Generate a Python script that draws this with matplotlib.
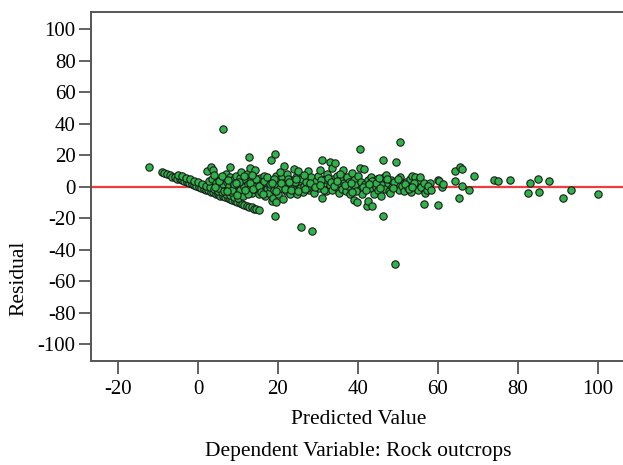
import matplotlib
matplotlib.use("Agg")
import matplotlib.pyplot as plt

# Residual vs predicted values
# points where the observed value is 0 (residual = -predicted)
zero_pred = [-9.0, -8.6, -7.8, -7.0, -6.4, -5.8, -5.2, -4.6, -4.0, -3.4, -2.8, -2.2,
             -1.6, -1.0, -0.4, 0.2, 0.8, 1.4, 2.0, 2.6, 3.2, 3.8, 4.4, 5.0, 5.6, 6.2,
             6.8, 7.4, 8.0, 8.6, 9.2, 9.8, 10.4, 11.0, 11.6, 12.2, 12.8, 13.4, 14.0,
             14.6, 15.2]
zero_resid = [9.1, 8.5, 7.7, 7.1, 6.3, 5.9, 5.1, 4.7, 3.9, 3.5, 2.7, 2.3, 1.5, 1.1,
              0.3, -0.3, -0.9, -1.5, -2.1, -2.5, -3.3, -3.7, -4.5, -4.9, -5.7, -6.1,
              -6.9, -7.3, -8.1, -8.5, -9.3, -9.7, -10.5, -10.9, -11.7, -12.1, -12.9,
              -13.3, -14.1, -14.5, -15.2]

# a second band just above it
low_pred = [-5.0, -4.0, -3.0, -2.0, -1.0, 0.0, 1.0, 2.0, 3.0, 4.0, 5.0, 6.0, 7.0,
            8.0, 9.0, 10.0]
low_resid = [7.4, 6.6, 5.4, 4.6, 3.4, 2.6, 1.4, 0.6, -0.6, -1.4, -2.6, -3.4, -4.6,
             -5.4, -6.6, -7.4]

# main cloud
pred = [-12.2, 2.2, 2.8, 3.2, 3.5, 3.8, 4.0, 4.5, 5.0,
        5.8, 6.2, 6.3, 6.5, 6.8, 7.0, 7.2, 7.5, 7.8, 8.0, 8.0, 8.3,
        8.8, 9.0, 9.3, 9.6, 10.0, 10.0, 10.4, 10.6, 10.8, 11.0, 11.2, 11.4,
        11.8, 12.0, 12.2, 12.5, 12.7, 12.9, 13.0, 13.2, 13.5, 13.8, 14.0, 14.2,
        14.6, 15.0, 15.3, 15.6, 16.0, 16.3, 16.6, 16.8, 17.0, 17.2,
        17.5, 17.8, 18.0, 18.2, 18.4, 18.6, 18.8, 19.0, 19.2, 19.3, 19.4, 19.6,
        19.8, 20.0, 20.3,
        20.6, 21.0, 21.3, 21.4, 21.6, 22.0, 22.3, 22.6, 23.0, 23.3,
        23.6, 24.0, 24.1, 24.5, 24.8, 25.0, 25.3, 25.6, 25.8, 26.0, 26.2,
        26.6, 27.0, 27.4, 27.8, 28.2, 28.5, 28.6, 29.0,
        29.5, 30.0, 30.3, 30.6, 31.0, 31.1, 31.4, 31.8, 32.0, 32.3,
        32.9, 33.0, 33.4, 33.5, 33.8, 34.3, 34.5, 34.8, 35.0, 35.2,
        35.6, 36.0, 36.3, 36.6, 37.0, 37.2, 37.6, 37.8, 38.0, 38.4,
        38.9, 39.0, 39.3, 39.7, 40.0, 40.2, 40.5, 40.5, 40.8, 41.0,
        41.6, 41.8, 42.2, 42.4, 42.6, 43.0, 43.3, 43.6, 43.8, 44.0,
        44.4, 44.8, 45.0, 45.4, 45.8, 46.0, 46.2, 46.2, 46.5, 46.8, 47.0,
        47.4, 47.8, 48.2, 48.6, 49.2, 49.6, 49.8, 50.2, 50.5, 50.6, 51.0,
        51.5, 52.0, 52.5, 53.0, 53.2, 53.6, 54.2, 54.6, 55.0, 55.3, 55.8,
        56.6, 56.6, 56.8, 57.3, 58.0, 59.9, 60.1, 60.3, 60.9, 61.3,
        64.3, 64.3, 65.2, 65.6, 66.0, 66.0, 67.7, 69.1,
        74.0, 74.9, 78.0, 82.4, 83.0, 85.0, 85.3, 87.8, 91.3, 93.2, 100.0]
resid = [12.5, 9.7, 3.8, 12.3, 4.5, 10.5, 7.5, 2.0, -1.0,
         5.0, 1.5, 36.8, -3.0, 5.5, 8.0, 3.0, -1.5, 0.5, 12.3, 6.0, -3.5,
         2.0, 4.5, -1.0, 7.0, -4.0, 1.0, 5.5, -2.0, 9.0, 3.0, -6.0, 0.0,
         5.0, -3.0, 8.0, 1.5, 18.6, -1.0, 12.0, 4.0, -4.0, 6.5, 0.5, 10.5,
         -2.0, 3.5, -5.0, 5.5, 1.0, -3.0, 7.0, -6.0, 2.5, -1.5,
         5.0, -4.0, 0.0, 16.9, -8.9, 3.0, -7.0, -2.0, 20.9, -19.0, -9.5, 7.0,
         1.0, -5.0, 4.0,
         -1.0, 6.0, -8.2, 12.9, 2.5, -3.0, 8.0, 0.0, -5.0, 4.0,
         1.5, -2.0, 11.0, 6.0, -4.5, 10.0, 2.0, -1.0, -25.4, 5.0, -3.5,
         0.5, 3.0, 10.1, -2.0, 6.0, 1.0, -28.3, -4.0,
         3.5, 7.0, -1.0, 10.5, 17.1, -7.2, 2.0, 5.0, -3.0, 8.0,
         15.6, 1.0, -2.0, 11.8, 4.5, 14.8, -0.5, 7.0, 2.5, -4.0,
         5.0, -1.5, 10.8, 2.0, -3.0, 6.0, 0.5, 3.0, -5.0, 8.7,
         -8.5, 4.0, 1.0, -9.5, 6.5, -2.0, 11.8, 23.7, 3.0, -5.0,
         11.2, 1.5, -12.5, -9.3, 4.0, -1.0, 6.0, -12.5, 2.0, -4.5,
         0.0, 5.0, -2.5, 3.0, -6.0, 1.0, 16.9, -19.0, 6.0, -1.5, 7.6,
         2.5, -3.0, 4.0, 0.0, -49.0, 15.6, 2.0, -2.0, 28.5, 6.0, 0.5,
         -3.0, 3.0, -1.0, 4.5, -3.5, 7.0, 5.9, 1.0, -2.5, 4.0, 0.0,
         2.1, -11.4, -4.0, -1.9, 2.1, 4.2, -12.0, 3.4, -0.4, 1.9,
         9.7, 3.8, -7.0, 12.7, 11.2, 0.2, -2.5, 7.0,
         4.0, 3.4, 4.2, -4.2, 2.5, 5.0, -3.2, 3.4, -7.2, -2.1, -4.9]

# extra points filling the dense part of the cloud
pred_more = [4.2, 5.3, 6.0, 7.6, 8.5, 9.1, 9.8, 10.2, 11.5, 12.4,
             13.1, 13.7, 14.4, 15.2, 15.8, 16.4, 17.3, 17.9, 18.9, 19.5,
             20.8, 21.8, 22.5, 23.2, 24.3, 25.1, 26.4, 27.2, 28.0, 29.3,
             30.8, 31.6, 32.6, 33.2, 34.0, 35.4, 36.8, 38.2, 39.5, 41.2,
             42.0, 43.5, 44.6, 45.6, 47.2, 48.0, 49.0, 50.0, 51.8, 52.8,
             54.0, 55.5, 57.6, 58.3, 7.3, 9.5, 11.7, 13.4, 16.2, 18.5,
             20.5, 22.8, 24.6, 26.8, 30.5, 34.7, 38.6, 42.8, 45.2, 48.8, 53.5]
resid_more = [-0.5, 3.5, 7.0, 4.0, -2.5, 1.5, -5.5, 3.0, 6.5, -4.5,
              2.0, -1.5, 4.5, 0.5, -3.5, 3.5, 6.0, 1.5, 5.0, -3.0,
              2.0, -1.5, 5.0, -2.5, 3.0, -3.0, 7.5, -1.0, 2.5, 0.0,
              4.0, -2.0, 5.5, 3.0, 0.5, 8.0, 1.0, 2.5, -3.0, 0.0,
              -2.5, 3.5, 2.0, -1.0, 5.0, -4.0, 3.0, 5.0, 1.5, -1.5,
              2.0, 6.0, 0.5, -2.0, -3.0, 2.5, -2.0, 7.5, -5.0, 2.0,
              9.0, 3.0, 4.5, -1.5, 1.0, 3.5, -3.5, 1.5, 5.5, -1.0, 0.0]

y_ticks = [100, 80, 60, 40, 20, 0, -20, -40, -60, -80, -100]
x_ticks = [-20, 0, 20, 40, 60, 80, 100]

plt.rcParams['font.family'] = ['Liberation Serif', 'DejaVu Serif']
plt.rcParams['axes.unicode_minus'] = False  # plain hyphen like the original

fig = plt.figure(figsize=(6.23, 4.65), dpi=100)
# right edge of the plot box runs off the picture, as in the reference
ax = fig.add_axes([0.146, 0.224, 0.878, 0.750])

ax.axhline(0, color='#ee3b3b', lw=1.6, zorder=1)
mk = dict(s=28, c='#2db34a', edgecolors='#1a1a1a', linewidths=0.8, zorder=3)
ax.scatter(zero_pred, zero_resid, **mk)
ax.scatter(low_pred, low_resid, **mk)
ax.scatter(pred, resid, **mk)
ax.scatter(pred_more, resid_more, **mk)

ax.set_xlim(-26.75, 110)
ax.set_ylim(-110.7, 110.8)
ax.set_xticks(x_ticks)
ax.set_yticks(y_ticks)
ax.tick_params(direction='out', length=9, width=1.3, color='#555555',
               labelsize=15, pad=2)
ax.tick_params(axis='x', pad=5)
for side in ['left', 'bottom', 'top']:
    ax.spines[side].set_color('#555555')
    ax.spines[side].set_linewidth(1.4)
ax.spines['right'].set_visible(False)

fig.text(0.030, 0.402, 'Residual', rotation=90, ha='center', va='center', fontsize=15.5)
fig.text(0.575, 0.097, 'Predicted Value', ha='center', va='center', fontsize=15.5)
fig.text(0.575, 0.028, 'Dependent Variable: Rock outcrops', ha='center', va='center', fontsize=15.5)

fig.savefig('out.png', dpi=100)
